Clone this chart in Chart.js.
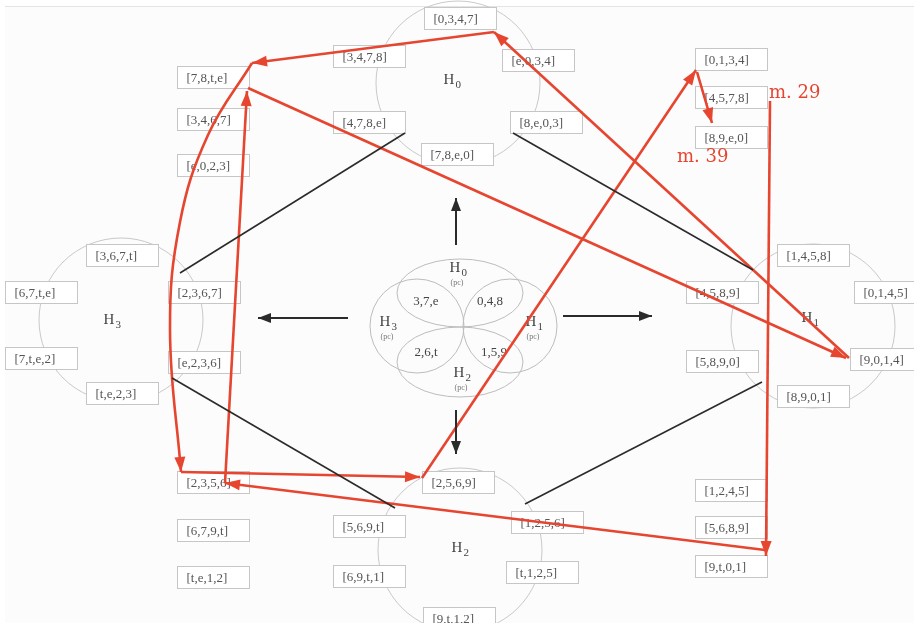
<!DOCTYPE html>
<html>
<head>
<meta charset="utf-8">
<script src="https://cdn.jsdelivr.net/npm/chart.js@4"></script>
<style>
  html, body { margin: 0; padding: 0; background: #fff; }
  #wrap { width: 914px; height: 623px; }
</style>
</head>
<body>
<div id="wrap"><canvas id="diagram" width="914" height="623"></canvas></div>
<script>
// tetrachord boxes (label + centre, in picture coordinates)
const boxLabels = [
  '[0,3,4,7]', '[3,4,7,8]', '[e,0,3,4]', '[4,7,8,e]', '[8,e,0,3]', '[7,8,e,0]',
  '[7,8,t,e]', '[3,4,6,7]', '[e,0,2,3]',
  '[0,1,3,4]', '[4,5,7,8]', '[8,9,e,0]',
  '[3,6,7,t]', '[6,7,t,e]', '[2,3,6,7]', '[7,t,e,2]', '[e,2,3,6]', '[t,e,2,3]',
  '[1,4,5,8]', '[0,1,4,5]', '[4,5,8,9]', '[9,0,1,4]', '[5,8,9,0]', '[8,9,0,1]',
  '[2,5,6,9]', '[5,6,9,t]', '[1,2,5,6]', '[6,9,t,1]', '[t,1,2,5]', '[9,t,1,2]',
  '[2,3,5,6]', '[6,7,9,t]', '[t,e,1,2]',
  '[1,2,4,5]', '[5,6,8,9]', '[9,t,0,1]'
];
const boxX = [
  460, 369, 538, 369, 546, 457,
  213, 213, 213,
  731, 731, 731,
  122, 41, 204, 41, 204, 122,
  813, 890, 722, 886, 722, 813,
  458, 369, 547, 369, 542, 459,
  213, 213, 213,
  731, 731, 731
];
const boxY = [
  18, 56, 60, 122, 122, 154,
  77, 119, 165,
  59, 97, 137,
  255, 292, 292, 358, 362, 393,
  255, 292, 292, 359, 361, 396,
  482, 526, 522, 576, 572, 618,
  482, 530, 577,
  490, 527, 566
];

// hexatonic hubs
const hubNames = ['0', '1', '2', '3'];
const hubX = [458, 813, 460, 121];
const hubY = [83, 326, 550, 320];
const hubLabelX = [452, 810, 460, 112];
const hubLabelY = [80, 318, 548, 320];

// black connectors between hubs
const linkX1 = [405, 513, 172, 762];
const linkY1 = [133, 133, 378, 382];
const linkX2 = [180, 753, 395, 525];
const linkY2 = [273, 270, 508, 504];

// centre arrows (from -> to)
const dirX1 = [456, 563, 456, 348];
const dirY1 = [245, 316, 410, 318];
const dirX2 = [456, 652, 456, 258];
const dirY2 = [198, 316, 454, 318];

// red voice-leading path, straight segments (from -> to)
const pathX1 = [248, 849, 494, 181, 422, 697, 770, 765, 225];
const pathY1 = [88, 358, 32, 472, 478, 72, 101, 550, 483];
const pathX2 = [846, 494, 252, 420, 696, 712, 766, 225, 247];
const pathY2 = [358, 32, 63, 477, 70, 123, 556, 483, 91];
// red curved segment
const curveX = [252, 208, 180, 170, 181];
const curveY = [63, 135, 222, 330, 472];

// measure labels
const measureText = ['m. 29', 'm. 39'];
const measureX = [769, 677];
const measureY = [98, 162];

// centre diagram
const lobeLabels = ['3,7,e', '0,4,8', '2,6,t', '1,5,9'];
const lobeX = [426, 490, 426, 494];
const lobeY = [302, 302, 353, 353];
const pcHubX = [458, 534, 462, 388];
const pcHubY = [268, 322, 373, 322];

const RED = '#e6452f';
const INK = '#2b2b2b';
const BOX_W = 72, BOX_H = 22;

const datasets = [];
datasets.push({
  id: 'hubs', order: 10,
  data: hubX.map((x, i) => ({ x, y: hubY[i] })),
  pointRadius: 82, pointHoverRadius: 82, pointStyle: 'circle',
  backgroundColor: 'rgba(0,0,0,0)', borderColor: '#c9c9c9', borderWidth: 1
});
linkX1.forEach((x, i) => datasets.push({
  data: [{ x, y: linkY1[i] }, { x: linkX2[i], y: linkY2[i] }],
  showLine: true, borderColor: INK, borderWidth: 1.6, pointRadius: 0
}));
dirX1.forEach((x, i) => datasets.push({
  data: [{ x, y: dirY1[i] }, { x: dirX2[i], y: dirY2[i] }],
  showLine: true, borderColor: INK, borderWidth: 2, pointRadius: 0,
  arrowLen: 13, arrowWid: 10
}));
pathX1.forEach((x, i) => datasets.push({
  data: [{ x, y: pathY1[i] }, { x: pathX2[i], y: pathY2[i] }],
  showLine: true, borderColor: RED, borderWidth: 2.6, pointRadius: 0,
  arrowLen: 15, arrowWid: 11
}));
datasets.push({
  data: curveX.map((x, i) => ({ x, y: curveY[i] })),
  showLine: true, tension: 0.4, borderColor: RED, borderWidth: 2.6, pointRadius: 0,
  arrowLen: 15, arrowWid: 11
});

function hLabel(ctx, x, y, sub, size) {
  ctx.font = size + 'px "Liberation Serif", serif';
  ctx.textAlign = 'left';
  ctx.textBaseline = 'middle';
  const w = ctx.measureText('H').width;
  ctx.fillText('H', x - w / 2 - 3, y);
  ctx.font = Math.round(size * 0.75) + 'px "Liberation Serif", serif';
  ctx.fillText(sub, x + w / 2 - 2, y + size * 0.35);
}

const decor = {
  id: 'decor',
  beforeDatasetsDraw(chart) {
    const { ctx, scales: { x, y } } = chart;
    ctx.save();
    // faint frame of the scanned figure
    ctx.fillStyle = '#fcfcfc';
    ctx.fillRect(x.getPixelForValue(5), y.getPixelForValue(6), 914, 623);
    ctx.strokeStyle = '#e4e4e4';
    ctx.lineWidth = 1;
    ctx.beginPath();
    ctx.moveTo(x.getPixelForValue(5), y.getPixelForValue(6) + 0.5);
    ctx.lineTo(x.getPixelForValue(914), y.getPixelForValue(6) + 0.5);
    ctx.stroke();
    // centre flower
    ctx.strokeStyle = '#bdbdbd';
    const lobes = [[460, 293, 63, 34], [460, 362, 63, 35], [417, 326, 47, 47], [510, 326, 47, 47]];
    lobes.forEach(l => {
      ctx.beginPath();
      ctx.ellipse(x.getPixelForValue(l[0]), y.getPixelForValue(l[1]), l[2], l[3], 0, 0, Math.PI * 2);
      ctx.stroke();
    });
    ctx.fillStyle = '#444';
    ctx.font = '13px "Liberation Serif", serif';
    ctx.textAlign = 'center';
    ctx.textBaseline = 'middle';
    lobeLabels.forEach((t, i) => ctx.fillText(t, x.getPixelForValue(lobeX[i]), y.getPixelForValue(lobeY[i])));
    hubNames.forEach((n, i) => {
      const px = x.getPixelForValue(pcHubX[i]), py = y.getPixelForValue(pcHubY[i]);
      ctx.fillStyle = '#444';
      hLabel(ctx, px, py, n, 15);
      ctx.fillStyle = '#777';
      ctx.font = '8px "Liberation Serif", serif';
      ctx.textAlign = 'center';
      ctx.fillText('(pc)', px - 1, py + 15);
    });
    ctx.restore();
  },
  afterDatasetDraw(chart, args) {
    if (chart.data.datasets[args.index].id !== 'hubs') return;
    const { ctx, scales: { x, y } } = chart;
    ctx.save();
    ctx.fillStyle = '#444';
    hubNames.forEach((n, i) => hLabel(ctx, x.getPixelForValue(hubLabelX[i]), y.getPixelForValue(hubLabelY[i]), n, 15));
    boxLabels.forEach((t, i) => {
      const left = Math.round(x.getPixelForValue(boxX[i]) - BOX_W / 2) + 0.5;
      const top = Math.round(y.getPixelForValue(boxY[i]) - BOX_H / 2) + 0.5;
      ctx.fillStyle = '#ffffff';
      ctx.fillRect(left, top, BOX_W, BOX_H);
      ctx.strokeStyle = '#c6c6c6';
      ctx.lineWidth = 1;
      ctx.strokeRect(left, top, BOX_W, BOX_H);
      ctx.fillStyle = '#555';
      ctx.font = '13px "Liberation Serif", serif';
      ctx.textAlign = 'left';
      ctx.textBaseline = 'middle';
      ctx.fillText(t, left + 9, top + BOX_H / 2 + 1);
    });
    ctx.restore();
  },
  afterDatasetsDraw(chart) {
    const { ctx, scales: { x, y } } = chart;
    ctx.save();
    chart.data.datasets.forEach((ds, i) => {
      if (!ds.arrowLen) return;
      const pts = chart.getDatasetMeta(i).data;
      const tip = pts[pts.length - 1];
      const prev = ds.tension ? { x: tip.cp1x, y: tip.cp1y } : pts[pts.length - 2];
      const a = Math.atan2(tip.y - prev.y, tip.x - prev.x);
      const bx = tip.x - ds.arrowLen * Math.cos(a), by = tip.y - ds.arrowLen * Math.sin(a);
      const h = ds.arrowWid / 2;
      ctx.fillStyle = ds.borderColor;
      ctx.beginPath();
      ctx.moveTo(tip.x, tip.y);
      ctx.lineTo(bx + h * Math.sin(a), by - h * Math.cos(a));
      ctx.lineTo(bx - h * Math.sin(a), by + h * Math.cos(a));
      ctx.closePath();
      ctx.fill();
    });
    ctx.fillStyle = RED;
    ctx.font = '18px "DejaVu Serif", serif';
    ctx.textAlign = 'left';
    ctx.textBaseline = 'alphabetic';
    measureText.forEach((t, i) => ctx.fillText(t, x.getPixelForValue(measureX[i]), y.getPixelForValue(measureY[i])));
    ctx.restore();
  }
};

new Chart(document.getElementById('diagram'), {
  type: 'scatter',
  data: { datasets },
  options: {
    responsive: false,
    animation: false,
    events: [],
    layout: { padding: 0, autoPadding: false },
    plugins: { legend: { display: false }, tooltip: { enabled: false } },
    scales: {
      x: { type: 'linear', min: 0, max: 914, display: false },
      y: { type: 'linear', min: 0, max: 623, reverse: true, display: false }
    }
  },
  plugins: [decor]
});
</script>
</body>
</html>
